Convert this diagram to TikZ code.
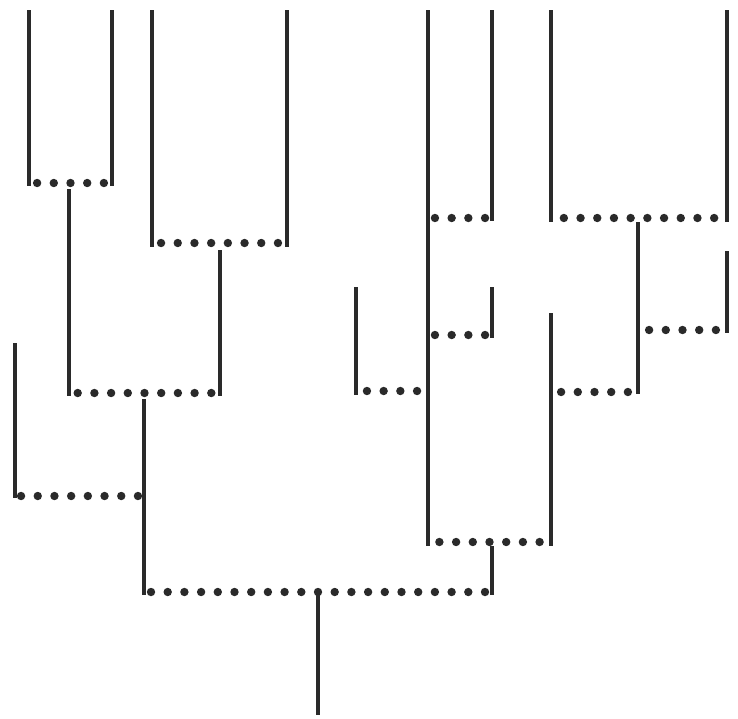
\documentclass[tikz,border=0pt]{standalone}
\usetikzlibrary{calc}
\definecolor{ink}{HTML}{2A2A2A}
\newcommand{\dotrow}[4]{\foreach \k in {1,...,#4}{\fill[ink]($(#2|-0,#1)!.5!(#3|-0,#1)+({(\k-(#4+1)/2)*16.7},0)$) circle (4.2pt);}}
\begin{document}
\begin{tikzpicture}[x=1pt,y=-1pt,stem/.style={draw=ink,line width=3.2pt}]
\useasboundingbox (0,0) rectangle (738,718);
\foreach \n/\x/\t/\b in {a/29/10/186,b/112/10/186,c/152/10/247,d/287/10/247,ab/69/189/396,cd/220/250/396,j/15/343/498,p/144/399/595,
  e/428/10/546,f/492/10/221,g/551/10/222,h/727/10/222,gh/638/222/394,i/727/251/333,l/492/287/338,k/356/287/395,m/551/313/546,em/492/546/595,root/318/595/715}
  {\coordinate (\n1) at (\x,\t);\coordinate (\n2) at (\x,\b);\draw[stem] (\n1)--(\n2);}
\dotrow{183}{a1}{b1}{5}\dotrow{243}{c1}{d1}{8}\dotrow{393}{ab1}{cd1}{9}\dotrow{496}{j1}{p1}{8}\dotrow{592}{p1}{em1}{21}
\dotrow{218}{e1}{f1}{4}\dotrow{218}{g1}{h1}{10}\dotrow{335}{e1}{l1}{4}\dotrow{391}{k1}{e1}{4}
\dotrow{542}{e1}{m1}{7}\dotrow{392}{m1}{gh1}{5}\dotrow{330}{gh1}{i1}{5}
\end{tikzpicture}
\end{document}
